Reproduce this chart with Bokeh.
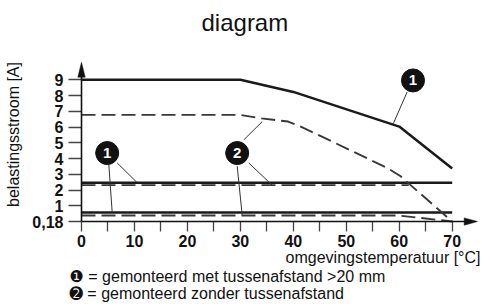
from bokeh.plotting import figure
from bokeh.models import FixedTicker, Range1d, ColumnDataSource, Title, LinearAxis
from bokeh.core.properties import value
from bokeh.embed import file_html
from bokeh.resources import INLINE

# ---------------- data ----------------
top_solid_x = [0, 30, 40, 60, 70]
top_solid_y = [9.0, 9.0, 8.23, 6.03, 3.37]
top_dash_x = [0, 30, 34, 39, 41.4, 50, 57.7, 60.2, 70]
top_dash_y = [6.77, 6.77, 6.55, 6.35, 6.03, 4.65, 3.41, 2.89, 0.0]
mid_solid_x = [0, 70]
mid_solid_y = [2.47, 2.47]
mid_dash_x = [0, 61.8]
mid_dash_y = [2.31, 2.31]
low_solid_x = [0, 70]
low_solid_y = [0.58, 0.58]
low_dash_x = [0, 60, 70]
low_dash_y = [0.38, 0.38, 0.0]

x_ticks = [0, 10, 20, 30, 40, 50, 60, 70]
x_minor_ticks = [5, 15, 25, 35, 45, 55, 65]
y_ticks = [0, 1, 2, 3, 4, 5, 6, 7, 8, 9]
y_tick_overrides = {0: "0,18"}

callout_x = [62.6, 4.85, 29.4]
callout_y = [8.96, 4.35, 4.35]
callout_text = ["1", "1", "2"]

leader_x0 = [61.5, 6.74, 5.16, 30.65, 31.59, 29.4]
leader_y0 = [8.23, 3.72, 3.62, 5.19, 3.72, 3.52]
leader_x1 = [58.86, 10.52, 5.80, 34.12, 36.01, 30.35]
leader_y1 = [6.2, 2.47, 0.58, 6.34, 2.31, 0.38]

title_text = "diagram"
x_label = "omgevingstemperatuur [°C]"
y_label = "belastingsstroom [A]"
legend_1 = "\u2776 = gemonteerd met tussenafstand >20 mm"
legend_2 = "\u278B = gemonteerd zonder tussenafstand"

# ---------------- layout (pixels) ----------------
W, H = 482, 304
ML, MR, MT, MB = 68, 0, 40, 78
PX_X = 5.2957                 # pixels per degree
PX_Y = 15.922                 # pixels per ampere
X_START = -13 / PX_X          # y axis sits 13 px inside the frame
X_END = (W - ML - MR - 13) / PX_X
Y_START = -5 / PX_Y           # x axis sits 5 px above the frame bottom
Y_END = (H - MT - MB - 5) / PX_Y

FONT = "Liberation Sans, DejaVu Sans"
INK = "#111111"
TICK = "#444444"

p = figure(width=W, height=H, output_backend="svg", toolbar_location=None,
           x_range=Range1d(X_START, X_END), y_range=Range1d(Y_START, Y_END),
           min_border_left=ML, min_border_right=MR, min_border_top=MT,
           min_border_bottom=MB)
p.outline_line_color = None
p.grid.visible = False
p.background_fill_color = "white"
p.border_fill_color = "white"

p.title.text = title_text
p.title.align = "left"
p.title.offset = 133
p.title.text_font = FONT
p.title.text_font_size = "24px"
p.title.text_font_style = "normal"
p.title.text_color = INK
p.title.standoff = 13

# x axis: ticks and labels (its own line hidden, drawn by the fixed axis below)
ax = p.xaxis[0]
ax.ticker = FixedTicker(ticks=x_ticks, minor_ticks=x_minor_ticks)
ax.axis_line_color = None
ax.major_tick_out = 5
ax.major_tick_in = 5
ax.minor_tick_out = 5
ax.minor_tick_in = 5
ax.major_tick_line_color = TICK
ax.minor_tick_line_color = TICK
ax.major_tick_line_width = 1.3
ax.minor_tick_line_width = 1.3
ax.major_label_text_font = FONT
ax.major_label_text_font_size = "16px"
ax.major_label_text_font_style = "bold"
ax.major_label_text_color = INK
ax.major_label_standoff = 3

# y axis: ticks, labels and title (its own line hidden)
ay = p.yaxis[0]
ay.ticker = FixedTicker(ticks=y_ticks)
ay.major_label_overrides = y_tick_overrides
ay.axis_line_color = None
ay.major_tick_out = 0
ay.major_tick_in = 13
ay.minor_tick_out = 0
ay.minor_tick_in = 0
ay.major_tick_line_color = TICK
ay.major_tick_line_width = 1.3
ay.major_label_text_font = FONT
ay.major_label_text_font_size = "16px"
ay.major_label_text_font_style = "bold"
ay.major_label_text_color = INK
ay.major_label_standoff = 5
ay.axis_label = y_label
ay.axis_label_text_font = FONT
ay.axis_label_text_font_size = "16px"
ay.axis_label_text_font_style = "normal"
ay.axis_label_text_color = INK
ay.axis_label_standoff = 7

# Titles below: x axis title and the two legend lines
def below_title(text, align, standoff, offset):
    t = Title(text=text, align=align, vertical_align="bottom", text_font=FONT,
              text_font_size="16px", text_font_style="normal", text_color=INK,
              standoff=standoff, offset=offset)
    p.add_layout(t, "below")

below_title(x_label, "right", -5, 2)
below_title(legend_1, "left", 6.2, 1)
below_title(legend_2, "left", -11, 1)

# axis lines through the origin (fixed axes without ticks)
def axis_line(side, bounds):
    a = LinearAxis(fixed_location=0, ticker=FixedTicker(ticks=[]),
                   bounds=bounds, axis_line_width=1.6, axis_line_color=INK,
                   major_tick_out=0, major_tick_in=0, minor_tick_out=0,
                   minor_tick_in=0, major_label_standoff=0)
    p.add_layout(a, side)

axis_line("left", (0, 9.3))
axis_line("below", (0, 72.5))

# arrow heads (sizes in pixels converted through the scales)
y_tip, x_tip = 10.11, 74.78
ay_len, ax_len, ah_half = 15, 13.3, 3.7
p.patches(xs=[[0, -ah_half / PX_X, ah_half / PX_X],
              [x_tip, x_tip - ax_len / PX_X, x_tip - ax_len / PX_X]],
          ys=[[y_tip, y_tip - ay_len / PX_Y, y_tip - ay_len / PX_Y],
              [0, ah_half / PX_Y, -ah_half / PX_Y]],
          fill_color=INK, line_color=INK, line_width=0.5)

solid = dict(line_color="#1a1a1a", line_width=2.5)
dashed = dict(line_color="#383838", line_width=1.9, line_dash="14 6")
p.line(top_solid_x, top_solid_y, **solid)
p.line(mid_solid_x, mid_solid_y, **solid)
p.line(low_solid_x, low_solid_y, **solid)
p.line(top_dash_x, top_dash_y, **dashed)
p.line(mid_dash_x, mid_dash_y, **dashed)
p.line(low_dash_x, low_dash_y, **dashed)

p.segment(x0=leader_x0, y0=leader_y0, x1=leader_x1, y1=leader_y1,
          line_color="#333333", line_width=1)

src = ColumnDataSource(dict(x=callout_x, y=callout_y, t=callout_text))
p.scatter("x", "y", source=src, size=23, marker="circle",
          fill_color=INK, line_color=INK)
p.text("x", "y", text="t", source=src, text_color="white",
       text_font=value(FONT), text_font_size="15px", text_font_style="bold",
       text_align="center", text_baseline="middle")

open("out.html", "w").write(file_html(p, INLINE))
